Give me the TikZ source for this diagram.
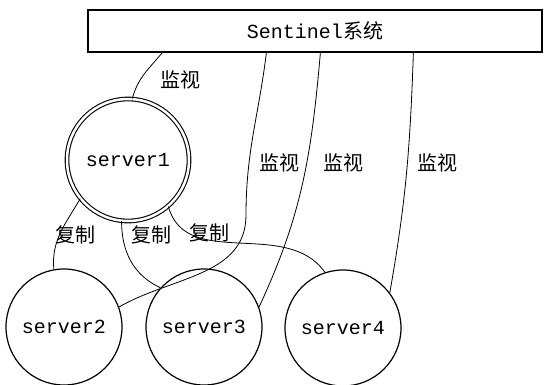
\documentclass[tikz,border=0pt]{standalone}
\usepackage{fontspec}
\setmonofont{Liberation Mono}
\newfontfamily\cjk{Noto Sans CJK SC}
\begin{document}
\begin{tikzpicture}[x=1pt,y=1pt,
    server/.style={circle,draw,line width=1.2pt,minimum size=116pt,inner sep=0pt,font=\fontsize{20}{24}\selectfont\ttfamily},
    master/.style={server,double,double distance=2.5pt,line width=1.1pt,minimum size=122pt},
    link/.style={line width=0.8pt},
    tag/.style={font=\fontsize{20}{24}\selectfont\cjk}]
  \useasboundingbox (0,0) rectangle (544,384);
  % Sentinel system
  \node[draw,line width=1.2pt,minimum width=454pt,minimum height=42pt,inner sep=0pt,
        font=\fontsize{20}{24}\selectfont] (sentinel) at (315,353) {{\ttfamily Sentinel}{\cjk 系统}\hspace{14pt}};
  % Servers
  \node[master] (server1) at (128,224) {server1};
  \node[server] (server2) at (64,57) {server2};
  \node[server] (server3) at (204,57) {server3};
  \node[server] (server4) at (343,56) {server4};
  % Monitoring links
  \coordinate (bend) at (246,169);
  \draw[link] ([xshift=75pt]sentinel.south west) to[out=-130,in=75] (server1.86);
  \draw[link] ([xshift=179pt]sentinel.south west) to[out=-97,in=90] (bend)
              to[out=-90,in=30] (server2.20);
  \draw[link] ([xshift=233pt]sentinel.south west) to[out=-95,in=65] (server3.20);
  \draw[link] ([xshift=326pt]sentinel.south west) to[out=-92,in=80] (server4.37);
  % Replication links
  \draw[link] (server1.219) to[out=-120,in=95] (server2.100);
  \draw[link] (server1.264) to[out=-90,in=155] (server3.138);
  \draw[link] (server1.311) to[out=-75,in=125] (server4.108);
  % Labels
  \node[tag] (watch1) at (180,304) {监视};
  \node[tag] (watch2) at (279,221) {监视};
  \node[tag] (watch3) at (343,221) {监视};
  \node[tag] (watch4) at (437,221) {监视};
  \node[tag] (copy1) at (76,149) {复制};
  \node[tag] (copy2) at (151,149) {复制};
  \node[tag] (copy3) at (209,151) {复制};
\end{tikzpicture}
\end{document}
